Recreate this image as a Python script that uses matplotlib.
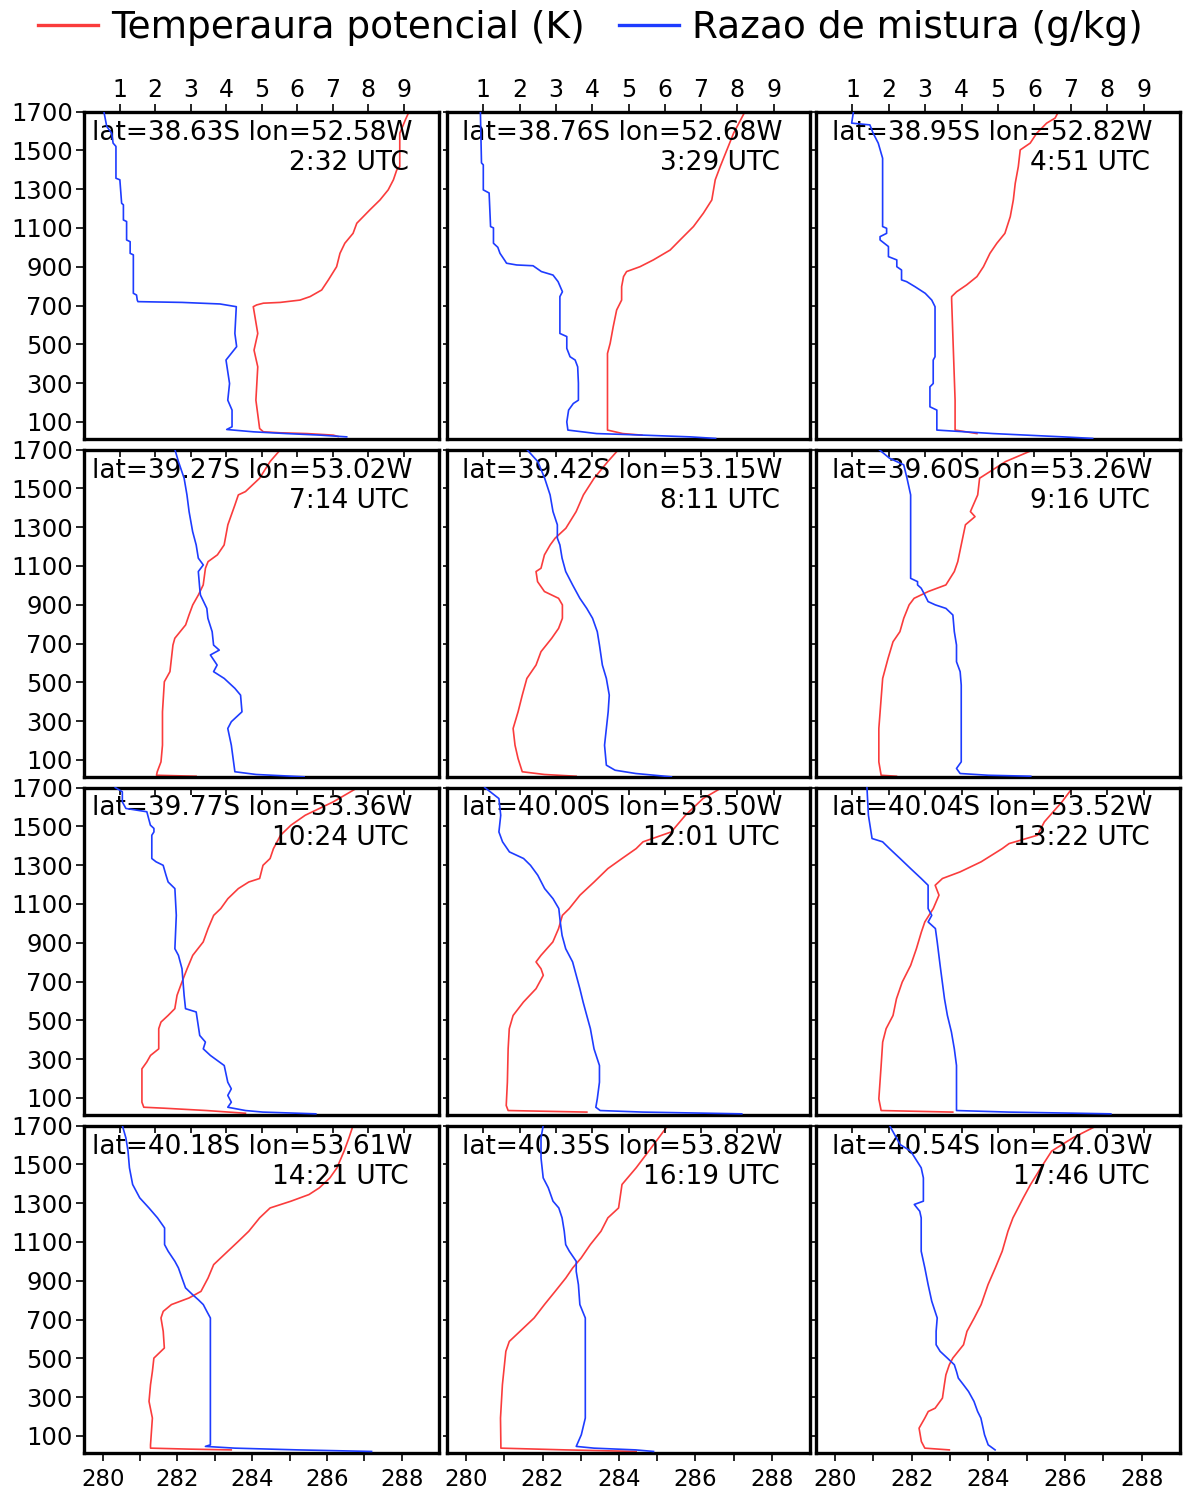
import matplotlib.pyplot as plt
from matplotlib.lines import Line2D

RED = "#fa3c3c"
BLUE = "#1e3cff"

# ---- 38.63S 52.58W 2:32 UTC
z_th1 = [1700, 1657, 1588, 1416, 1399, 1348, 1296, 1244, 1193, 1124, 1072, 1021, 969, 900, 832, 780,
         746, 728, 716, 712, 703, 694, 556, 470, 384, 212, 66, 49, 44, 40, 32, 25]
th1 = [288.2, 288.1, 287.95, 287.95, 287.87, 287.78, 287.64, 287.42, 287.15, 286.8, 286.7, 286.48,
       286.35, 286.26, 286.04, 285.86, 285.55, 285.28, 284.75, 284.3, 284.12, 284.03, 284.15, 284.05,
       284.15, 284.1, 284.2, 284.3, 284.75, 285.46, 286.17, 286.3]
z_q1 = [1700, 1623, 1588, 1537, 1520, 1356, 1348, 1227, 1219, 1141, 1133, 1038, 1029, 969, 961, 763,
        754, 728, 720, 716, 708, 694, 556, 488, 419, 298, 212, 161, 75, 61, 49, 40, 32, 23]
q1 = [0.56, 0.64, 0.78, 0.82, 0.90, 0.90, 1.01, 1.06, 1.11, 1.11, 1.2, 1.2, 1.3, 1.3, 1.39, 1.39,
      1.48, 1.5, 1.52, 2.76, 3.83, 4.29, 4.25, 4.3, 4.0, 4.1, 4.05, 4.17, 4.17, 4.02, 4.77, 5.7, 6.65, 7.4]

# ---- 38.76S 52.68W 3:29 UTC
z_th2 = [1700, 1588, 1416, 1348, 1244, 1176, 1107, 1038, 986, 935, 900, 875, 849, 797, 728, 677,
         591, 505, 453, 58, 40, 32]
th2 = [287.3, 287.0, 286.65, 286.52, 286.43, 286.21, 285.95, 285.6, 285.34, 284.9, 284.55, 284.2,
       284.12, 284.07, 284.07, 283.94, 283.85, 283.77, 283.7, 283.7, 284.1, 284.6]
z_q2 = [1700, 1435, 1425, 1296, 1280, 1107, 1100, 1021, 1000, 969, 930, 918, 909, 905, 875, 857,
        823, 771, 746, 556, 540, 479, 436, 419, 384, 300, 212, 195, 161, 100, 58, 40, 35, 23, 15]
q2 = [0.92, 0.95, 1.0, 1.0, 1.16, 1.2, 1.28, 1.28, 1.4, 1.46, 1.6, 1.64, 1.92, 2.37, 2.6, 2.92,
      3.06, 3.18, 3.11, 3.11, 3.3, 3.3, 3.39, 3.53, 3.6, 3.62, 3.62, 3.48, 3.35, 3.3, 3.33, 4.12,
      4.95, 6.7, 7.4]

# ---- 38.95S 52.82W 4:51 UTC
z_th3 = [1700, 1666, 1640, 1588, 1537, 1502, 1416, 1330, 1244, 1158, 1072, 1021, 969, 900, 849,
         806, 771, 746, 728, 212, 58, 40]
th3 = [285.83, 285.74, 285.52, 285.26, 285.09, 284.83, 284.78, 284.7, 284.65, 284.57, 284.43,
       284.22, 284.04, 283.87, 283.7, 283.43, 283.17, 283.04, 283.04, 283.13, 283.13, 283.7]
z_q3 = [1700, 1640, 1631, 1588, 1537, 1459, 1107, 1098, 1072, 1055, 1038, 1004, 952, 935, 900, 883,
        832, 823, 797, 763, 728, 694, 436, 419, 298, 281, 178, 161, 58, 40, 23, 15]
q3 = [1.03, 0.98, 1.48, 1.57, 1.71, 1.83, 1.83, 1.94, 1.94, 1.76, 1.76, 1.99, 1.99, 2.22, 2.22,
      2.35, 2.35, 2.49, 2.72, 3.0, 3.18, 3.27, 3.27, 3.22, 3.22, 3.13, 3.13, 3.32, 3.32, 4.87, 6.79, 7.6]

# ---- 39.27S 53.02W 7:14 UTC
z_th4 = [1700, 1638, 1552, 1483, 1466, 1415, 1312, 1208, 1157, 1122, 1088, 1002, 950, 899, 847,
         796, 727, 692, 555, 503, 348, 176, 90, 39, 21, 16]
th4 = [284.76, 284.48, 284.2, 283.82, 283.63, 283.54, 283.35, 283.25, 283.07, 282.82, 282.75,
       282.69, 282.56, 282.41, 282.31, 282.22, 281.93, 281.88, 281.8, 281.65, 281.6, 281.6, 281.56,
       281.46, 281.44, 282.5]
z_q4 = [1700, 1638, 1552, 1466, 1380, 1277, 1208, 1140, 1105, 1071, 985, 950, 881, 830, 761, 692,
        666, 641, 589, 555, 520, 469, 434, 348, 297, 262, 176, 39, 25, 13]
q4 = [2.56, 2.66, 2.82, 2.9, 2.96, 3.06, 3.16, 3.22, 3.36, 3.22, 3.26, 3.28, 3.46, 3.49, 3.61, 3.65,
      3.81, 3.56, 3.75, 3.65, 3.95, 4.25, 4.41, 4.45, 4.15, 4.05, 4.15, 4.25, 4.85, 6.2]

# ---- 39.42S 53.15W 8:11 UTC
z_th5 = [1700, 1638, 1552, 1466, 1380, 1294, 1243, 1208, 1157, 1088, 1071, 1019, 968, 933, 899,
         830, 778, 727, 658, 589, 520, 434, 348, 262, 176, 107, 39, 25, 16]
th5 = [283.99, 283.71, 283.35, 283.07, 282.88, 282.61, 282.33, 282.2, 282.05, 281.96, 281.83,
       281.87, 282.05, 282.42, 282.52, 282.52, 282.42, 282.24, 281.96, 281.83, 281.59, 281.47,
       281.36, 281.23, 281.28, 281.36, 281.47, 282.05, 282.88]
z_q5 = [1700, 1638, 1552, 1466, 1380, 1312, 1243, 1208, 1140, 1071, 1002, 933, 881, 830, 761, 692,
        589, 520, 434, 348, 262, 176, 73, 47, 30, 13]
q5 = [2.2, 2.5, 2.69, 2.84, 2.92, 3.04, 3.04, 3.11, 3.17, 3.27, 3.46, 3.66, 3.85, 4.01, 4.14, 4.2,
      4.28, 4.39, 4.47, 4.44, 4.39, 4.34, 4.39, 4.63, 5.2, 6.18]

# ---- 39.60S 53.26W 9:16 UTC
z_th6 = [1700, 1638, 1552, 1466, 1380, 1354, 1312, 1208, 1122, 1071, 1002, 968, 933, 899, 830,
         761, 709, 623, 520, 417, 262, 90, 21, 16]
th6 = [285.19, 284.45, 283.77, 283.72, 283.53, 283.65, 283.4, 283.29, 283.2, 283.11, 282.89,
       282.43, 282.06, 281.93, 281.79, 281.69, 281.51, 281.38, 281.24, 281.2, 281.14, 281.14,
       281.2, 281.6]
z_q6 = [1700, 1655, 1621, 1552, 1466, 1036, 1019, 1002, 985, 950, 916, 899, 881, 847, 761, 692,
        606, 555, 486, 90, 56, 30, 21, 16]
q6 = [1.73, 2.02, 2.41, 2.5, 2.6, 2.6, 2.79, 2.79, 2.89, 2.99, 3.08, 3.28, 3.57, 3.76, 3.8, 3.86,
      3.86, 3.96, 3.99, 3.99, 3.86, 3.96, 4.73, 5.9]

# ---- 39.77S 53.36W 10:24 UTC
z_th7 = [1700, 1626, 1557, 1506, 1454, 1385, 1334, 1299, 1231, 1213, 1179, 1127, 1076, 1041, 973,
         904, 835, 766, 697, 629, 560, 525, 491, 457, 353, 319, 285, 250, 78, 52, 47, 35, 21]
th7 = [286.83, 286.17, 285.42, 285.04, 284.76, 284.57, 284.48, 284.29, 284.2, 283.91, 283.63,
       283.35, 283.16, 282.97, 282.82, 282.69, 282.41, 282.26, 282.12, 281.99, 281.93, 281.75,
       281.56, 281.5, 281.5, 281.28, 281.18, 281.05, 281.05, 281.1, 281.65, 282.78, 283.82]
z_q7 = [1700, 1678, 1626, 1592, 1575, 1506, 1489, 1471, 1454, 1334, 1317, 1299, 1248, 1213, 1179,
        1041, 869, 835, 766, 629, 560, 543, 422, 388, 353, 319, 267, 181, 147, 113, 78, 52, 35, 27, 18]
q7 = [0.88, 1.08, 1.08, 1.18, 1.77, 1.87, 1.97, 1.97, 1.91, 1.91, 2.03, 2.23, 2.31, 2.37, 2.56,
      2.6, 2.56, 2.66, 2.76, 2.82, 2.86, 3.16, 3.26, 3.42, 3.36, 3.56, 3.95, 4.05, 4.15, 4.05, 4.15,
      4.05, 4.55, 5.04, 6.53]

# ---- 40.00S 53.50W 12:01 UTC
z_th8 = [1700, 1643, 1557, 1471, 1420, 1385, 1334, 1282, 1213, 1145, 1076, 1041, 973, 904, 835,
         801, 766, 732, 663, 594, 525, 457, 353, 181, 61, 35, 27]
th8 = [286.7, 286.2, 285.74, 285.37, 284.63, 284.45, 284.08, 283.71, 283.35, 282.98, 282.7,
       282.52, 282.42, 282.27, 281.96, 281.83, 281.96, 282.02, 281.83, 281.5, 281.23, 281.13,
       281.1, 281.08, 281.05, 281.1, 283.16]
z_q8 = [1700, 1643, 1557, 1471, 1420, 1368, 1334, 1299, 1248, 1179, 1127, 1076, 1007, 938, 869,
        801, 732, 663, 594, 525, 457, 353, 267, 181, 95, 52, 35, 27, 18]
q8 = [1.04, 1.43, 1.48, 1.43, 1.53, 1.72, 2.11, 2.3, 2.5, 2.69, 2.92, 3.08, 3.12, 3.17, 3.27,
      3.46, 3.56, 3.66, 3.75, 3.85, 3.95, 4.05, 4.2, 4.2, 4.14, 4.1, 4.22, 5.4, 8.12]

# ---- 40.04S 53.52W 13:22 UTC
z_th9 = [1700, 1626, 1523, 1454, 1411, 1385, 1317, 1265, 1231, 1196, 1145, 1076, 1007, 955, 869,
         783, 697, 611, 525, 457, 388, 267, 95, 35, 27]
th9 = [286.2, 285.92, 285.46, 285.28, 284.54, 284.36, 283.81, 283.26, 282.8, 282.61, 282.71,
       282.56, 282.34, 282.25, 282.12, 281.97, 281.75, 281.6, 281.51, 281.33, 281.24, 281.2,
       281.14, 281.2, 283.07]
z_q9 = [1700, 1557, 1437, 1420, 1385, 1334, 1282, 1231, 1196, 1076, 1041, 1007, 973, 904, 783,
        697, 611, 525, 440, 353, 267, 95, 35, 27, 18]
q9 = [1.4, 1.44, 1.54, 1.83, 2.02, 2.31, 2.6, 2.89, 3.08, 3.08, 3.18, 3.08, 3.28, 3.33, 3.41, 3.47,
      3.53, 3.61, 3.72, 3.8, 3.86, 3.86, 3.86, 5.3, 8.1]

# ---- 40.18S 53.61W 14:21 UTC
z_th10 = [1700, 1636, 1568, 1482, 1430, 1379, 1344, 1310, 1275, 1224, 1155, 1103, 1034, 983, 914,
          845, 811, 777, 742, 708, 639, 553, 501, 432, 364, 278, 192, 54, 37, 32, 28]
th10 = [286.7, 286.59, 286.46, 286.27, 286.08, 285.8, 285.52, 285.04, 284.48, 284.2, 283.91,
        283.63, 283.25, 282.97, 282.82, 282.63, 282.31, 281.84, 281.62, 281.56, 281.62, 281.65,
        281.37, 281.33, 281.28, 281.24, 281.33, 281.28, 281.28, 282.31, 283.44]
z_q10 = [1700, 1636, 1568, 1482, 1396, 1327, 1275, 1224, 1172, 1086, 1052, 1000, 966, 914, 863,
         828, 802, 777, 742, 708, 54, 46, 37, 28, 20]
q10 = [1.08, 1.18, 1.24, 1.28, 1.37, 1.57, 1.83, 2.07, 2.27, 2.27, 2.37, 2.56, 2.66, 2.76, 2.86,
       3.06, 3.22, 3.36, 3.46, 3.56, 3.56, 3.42, 4.25, 6.03, 8.1]

# ---- 40.35S 53.82W 16:19 UTC
z_th11 = [1700, 1602, 1482, 1396, 1275, 1224, 1155, 1086, 1017, 966, 914, 845, 777, 708, 639, 587,
          536, 364, 192, 54, 37, 28, 20]
th11 = [285.28, 284.91, 284.45, 284.08, 283.99, 283.71, 283.53, 283.25, 283.01, 282.79, 282.61,
        282.33, 282.05, 281.78, 281.41, 281.13, 281.04, 280.95, 280.9, 280.91, 280.91, 282.61, 284.45]
z_q11 = [1700, 1636, 1533, 1430, 1379, 1310, 1275, 1224, 1155, 1086, 1052, 1000, 948, 880, 777,
         708, 192, 106, 46, 37, 28, 20]
q11 = [2.65, 2.59, 2.59, 2.65, 2.79, 2.92, 3.08, 3.17, 3.23, 3.27, 3.37, 3.56, 3.56, 3.62, 3.66,
       3.81, 3.81, 3.7, 3.56, 4.05, 5.2, 5.69]

# ---- 40.54S 54.03W 17:46 UTC
z_th12 = [1700, 1636, 1568, 1482, 1396, 1327, 1258, 1224, 1155, 1052, 966, 880, 777, 708, 639, 570,
          501, 467, 415, 364, 295, 243, 226, 192, 140, 71, 37, 28]
th12 = [286.84, 286.2, 285.65, 285.37, 285.1, 284.91, 284.73, 284.64, 284.51, 284.36, 284.18,
        283.99, 283.81, 283.63, 283.44, 283.35, 283.07, 282.98, 282.89, 282.85, 282.8, 282.61,
        282.43, 282.34, 282.19, 282.25, 282.34, 282.98]
z_q12 = [1700, 1602, 1568, 1482, 1430, 1310, 1293, 1258, 1224, 1052, 966, 880, 794, 708, 639, 570,
         536, 501, 467, 432, 398, 364, 329, 278, 226, 192, 106, 54, 28]
q12 = [2.02, 2.31, 2.6, 2.89, 2.95, 2.95, 2.7, 2.85, 2.89, 2.89, 2.99, 3.08, 3.18, 3.33, 3.3, 3.3,
       3.41, 3.61, 3.8, 3.86, 3.91, 4.05, 4.19, 4.34, 4.44, 4.53, 4.63, 4.73, 4.92]

positions = ["lat=38.63S lon=52.58W", "lat=38.76S lon=52.68W", "lat=38.95S lon=52.82W",
             "lat=39.27S lon=53.02W", "lat=39.42S lon=53.15W", "lat=39.60S lon=53.26W",
             "lat=39.77S lon=53.36W", "lat=40.00S lon=53.50W", "lat=40.04S lon=53.52W",
             "lat=40.18S lon=53.61W", "lat=40.35S lon=53.82W", "lat=40.54S lon=54.03W"]
times = ["2:32 UTC", "3:29 UTC", "4:51 UTC", "7:14 UTC", "8:11 UTC", "9:16 UTC",
         "10:24 UTC", "12:01 UTC", "13:22 UTC", "14:21 UTC", "16:19 UTC", "17:46 UTC"]

profiles = [(z_th1, th1, z_q1, q1), (z_th2, th2, z_q2, q2), (z_th3, th3, z_q3, q3),
            (z_th4, th4, z_q4, q4), (z_th5, th5, z_q5, q5), (z_th6, th6, z_q6, q6),
            (z_th7, th7, z_q7, q7), (z_th8, th8, z_q8, q8), (z_th9, th9, z_q9, q9),
            (z_th10, th10, z_q10, q10), (z_th11, th11, z_q11, q11), (z_th12, th12, z_q12, q12)]

plt.rcParams["font.family"] = "DejaVu Sans"

W, H = 1183, 1494
col_x = [(84, 439), (447, 810), (816, 1180)]
row_top = [111.5 + 338 * i for i in range(4)]
row_h = 327.5

fig = plt.figure(figsize=(W / 100, H / 100), dpi=100)

for k, (zt, th, zq, q) in enumerate(profiles):
    r, c = divmod(k, 3)
    x0, x1 = col_x[c]
    top = row_top[r]
    ax = fig.add_axes([x0 / W, 1 - (top + row_h) / H, (x1 - x0) / W, row_h / H])
    ax.plot(th, zt, color=RED, lw=1.2)
    ax.set_xlim(279.5, 289)
    ax.set_ylim(12, 1700)

    axq = ax.twiny()
    axq.plot(q, zq, color=BLUE, lw=1.2)
    axq.set_xlim(0, 10)

    # y axis
    ax.set_yticks(range(100, 1701, 200))
    if c == 0:
        ax.tick_params(axis="y", direction="out", length=6, width=1.2, labelsize=17.5, pad=2)
    else:
        ax.tick_params(axis="y", direction="out", length=3, width=1.2, labelleft=False)

    # bottom axis (temperature)
    if r == 3:
        ax.set_xticks(range(280, 289))
        ax.set_xticklabels([str(v) if v % 2 == 0 else "" for v in range(280, 289)])
        ax.tick_params(axis="x", direction="out", length=6, width=1.2, labelsize=16.5, pad=5)
    else:
        ax.tick_params(axis="x", bottom=False, labelbottom=False)

    # top axis (mixing ratio)
    axq.set_xticks(range(1, 10))
    if r == 0:
        axq.tick_params(axis="x", direction="out", length=6, width=1.2, labelsize=17, pad=1)
    else:
        axq.tick_params(axis="x", direction="in", length=5, width=1.2, labeltop=False)

    for s in ax.spines.values():
        s.set_linewidth(2.4)
    for s in axq.spines.values():
        s.set_visible(False)

    ax.annotate(positions[k], xy=(1, 1), xycoords="axes fraction", xytext=(-27, -21),
                textcoords="offset pixels", ha="right", va="center", fontsize=19)
    ax.annotate(times[k], xy=(1, 1), xycoords="axes fraction", xytext=(-30, -51),
                textcoords="offset pixels", ha="right", va="center", fontsize=19)

handles = [Line2D([], [], color=RED, lw=2.4), Line2D([], [], color=BLUE, lw=2.4)]
fig.legend(handles, ["Temperaura potencial (K)", "Razao de mistura (g/kg)"],
           loc="center left", bbox_to_anchor=(38 / W, 1 - 28 / H), ncol=2, frameon=False,
           fontsize=27, handlelength=1.6, handletextpad=0.36, columnspacing=0.9,
           borderpad=0, borderaxespad=0)

fig.savefig("out.png", dpi=100)
